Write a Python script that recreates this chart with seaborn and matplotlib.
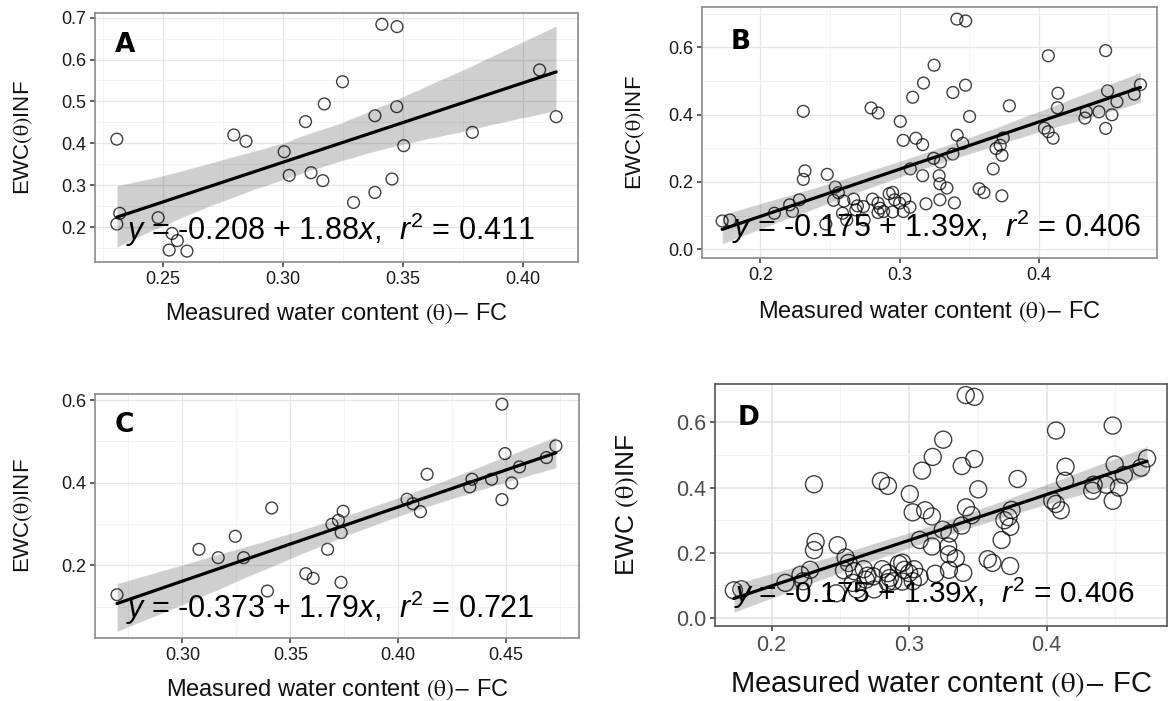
import pandas as pd
import seaborn as sns
import matplotlib.pyplot as plt
from matplotlib.collections import PolyCollection

# panel A
a_x = [0.2308, 0.232, 0.2308, 0.248, 0.2538, 0.256, 0.2526, 0.260, 0.2795, 0.2846,
       0.3005, 0.3026, 0.3094, 0.3117, 0.3172, 0.3166, 0.3248, 0.3294, 0.3383, 0.3383,
       0.3412, 0.3475, 0.3474, 0.3454, 0.3503, 0.3789, 0.4069, 0.4138]
a_y = [0.410, 0.233, 0.2076, 0.2227, 0.185, 0.168, 0.1455, 0.143, 0.420, 0.405,
       0.380, 0.3237, 0.4518, 0.330, 0.494, 0.311, 0.547, 0.259, 0.466, 0.283,
       0.684, 0.6785, 0.4876, 0.315, 0.3945, 0.4263, 0.5751, 0.4637]

# panel C
c_x = [0.2697, 0.3077, 0.3166, 0.3245, 0.3284, 0.3394, 0.3414, 0.3572, 0.3606, 0.3673,
       0.3693, 0.3723, 0.3745, 0.3736, 0.3735, 0.4041, 0.4068, 0.4103, 0.4134, 0.4332,
       0.4342, 0.4433, 0.4481, 0.4495, 0.4481, 0.4526, 0.4562, 0.4687, 0.4731]
c_y = [0.1289, 0.2388, 0.2186, 0.2703, 0.2186, 0.1378, 0.339, 0.1798, 0.1685, 0.2388,
       0.2994, 0.309, 0.331, 0.2792, 0.1588, 0.360, 0.3495, 0.330, 0.4206, 0.3899,
       0.4085, 0.4085, 0.5903, 0.4707, 0.3592, 0.3996, 0.4384, 0.461, 0.4893]

# extra points that only appear in the pooled panels (B, D)
other_x = [0.1725, 0.178, 0.210, 0.221, 0.223, 0.228, 0.247, 0.259, 0.262, 0.267,
           0.2685, 0.274, 0.2745, 0.2805, 0.2845, 0.286, 0.2845, 0.2885, 0.2925, 0.295,
           0.2965, 0.295, 0.300, 0.3037, 0.3027, 0.3075, 0.319, 0.329, 0.329, 0.334]
other_y = [0.084, 0.087, 0.107, 0.132, 0.112, 0.147, 0.075, 0.107, 0.087, 0.149,
           0.117, 0.127, 0.087, 0.149, 0.137, 0.122, 0.109, 0.112, 0.165, 0.169,
           0.147, 0.111, 0.137, 0.149, 0.112, 0.125, 0.135, 0.1945, 0.147, 0.182]

eq_a = r'$y$ = -0.208 + 1.88$x$,  $r^2$ = 0.411'
eq_b = r'$y$ = -0.175 + 1.39$x$,  $r^2$ = 0.406'
eq_c = r'$y$ = -0.373 + 1.79$x$,  $r^2$ = 0.721'

sns.set_style('white')
plt.rcParams['font.family'] = ['Liberation Sans', 'DejaVu Sans']
plt.rcParams['mathtext.fontset'] = 'custom'
plt.rcParams['mathtext.rm'] = 'Liberation Sans'
plt.rcParams['mathtext.it'] = 'Liberation Sans:italic'
plt.rcParams['text.color'] = '#111111'
plt.rcParams['axes.labelcolor'] = '#111111'

df_a = pd.DataFrame({'x': a_x, 'y': a_y})
df_c = pd.DataFrame({'x': c_x, 'y': c_y})
df_all = pd.concat([df_a, df_c, pd.DataFrame({'x': other_x, 'y': other_y})])

W, H = 1169, 701
fig = plt.figure(figsize=(W / 100, H / 100), dpi=100)


def panel(box, df, letter, eq, xlim, ylim, xmaj, xmin, ymaj, ymin, xfmt,
          ylab, big=False, letter_pos=(0.041, 0.92), eq_pos=(0.064, 0.088),
          ylab_x=-0.13, xlab_y=-0.16):
    l, t, r, b = box
    ax = fig.add_axes([l / W, (H - b) / H, (r - l) / W, (b - t) / H])
    ms = 150 if big else 72
    sns.regplot(data=df, x='x', y='y', ax=ax, ci=95, seed=3, truncate=True,
                scatter_kws=dict(s=ms, facecolors='none', edgecolors='black',
                                 linewidths=1.0, alpha=0.75),
                line_kws=dict(color='black', lw=2.3))
    # slightly darker confidence band, like the original
    for coll in ax.collections:
        if isinstance(coll, PolyCollection):
            coll.set_alpha(0.19)
    ax.set_xlim(xlim)
    ax.set_ylim(ylim)
    ax.set_xticks(xmaj)
    ax.set_xticks(xmin, minor=True)
    ax.set_yticks(ymaj)
    ax.set_yticks(ymin, minor=True)
    ax.set_xticklabels([xfmt.format(v) for v in xmaj])
    ax.set_yticklabels(['{:.1f}'.format(v) for v in ymaj])
    gcol = '#e6e6e6' if not big else '#e0e0e0'
    ax.grid(True, which='major', color=gcol, lw=1.1 if big else 0.9, zorder=0)
    ax.grid(True, which='minor', color='#f3f3f3', lw=0.7, zorder=0)
    ax.set_axisbelow(True)
    spc = '#555555' if big else '#8a8a8a'
    for s in ax.spines.values():
        s.set_color(spc)
        s.set_linewidth(1.2)
    tcol = '#4d4d4d' if big else '#1a1a1a'
    ax.tick_params(which='major', length=3.5, width=1.1, color='#333333', pad=3,
                   labelsize=15.5 if big else 13, labelcolor=tcol,
                   bottom=True, left=True)
    ax.tick_params(which='minor', length=0)
    ax.set_xlabel(r'Measured water content $(\mathrm{\theta})$$-$ FC',
                  fontsize=21 if big else 17, math_fontfamily='stix')
    ax.set_ylabel(ylab, fontsize=19 if big else 16, math_fontfamily='stix')
    ax.xaxis.set_label_coords(0.5, xlab_y)
    ax.yaxis.set_label_coords(ylab_x, 0.5)
    ax.text(letter_pos[0], letter_pos[1], letter, transform=ax.transAxes, color='black',
            fontsize=19, fontweight='bold', family='DejaVu Sans', va='top', ha='left')
    ax.text(eq_pos[0], eq_pos[1], eq, transform=ax.transAxes, color='black',
            fontsize=21.5 if big else 22, va='baseline', ha='left', zorder=5)
    return ax


panel((95, 13, 578, 262), df_a, 'A', eq_a, (0.2217, 0.4229), (0.117, 0.711),
      [0.25, 0.30, 0.35, 0.40], [0.225, 0.275, 0.325, 0.375],
      [0.2, 0.3, 0.4, 0.5, 0.6, 0.7], [0.15, 0.25, 0.35, 0.45, 0.55, 0.65],
      '{:.2f}', r'EWC$(\mathrm{\theta})$INF',
      letter_pos=(0.041, 0.925), eq_pos=(0.064, 0.088), ylab_x=-0.124, xlab_y=-0.158)

panel((702, 7, 1157, 258), df_all, 'B', eq_b, (0.158, 0.485), (-0.026, 0.72),
      [0.2, 0.3, 0.4], [0.25, 0.35, 0.45],
      [0.0, 0.2, 0.4, 0.6], [0.1, 0.3, 0.5, 0.7],
      '{:.1f}', r'EWC$(\mathrm{\theta})$INF',
      letter_pos=(0.062, 0.912), eq_pos=(0.066, 0.084), ylab_x=-0.12, xlab_y=-0.165)

panel((95, 394, 579, 638), df_c, 'C', eq_c, (0.2595, 0.4838), (0.024, 0.615),
      [0.30, 0.35, 0.40, 0.45], [0.275, 0.325, 0.375, 0.425, 0.475],
      [0.2, 0.4, 0.6], [0.1, 0.3, 0.5],
      '{:.2f}', r'EWC$(\mathrm{\theta})$INF',
      letter_pos=(0.041, 0.925), eq_pos=(0.064, 0.081), ylab_x=-0.124, xlab_y=-0.162)

panel((715, 384, 1167, 626), df_all, 'D', eq_b, (0.1588, 0.4876), (-0.0255, 0.718),
      [0.2, 0.3, 0.4], [0.25, 0.35, 0.45],
      [0.0, 0.2, 0.4, 0.6], [0.1, 0.3, 0.5, 0.7],
      '{:.1f}', r'EWC $(\mathrm{\theta})$INF', big=True,
      letter_pos=(0.049, 0.915), eq_pos=(0.042, 0.095), ylab_x=-0.163, xlab_y=-0.175)

fig.savefig('out.png', dpi=100, facecolor='white')
